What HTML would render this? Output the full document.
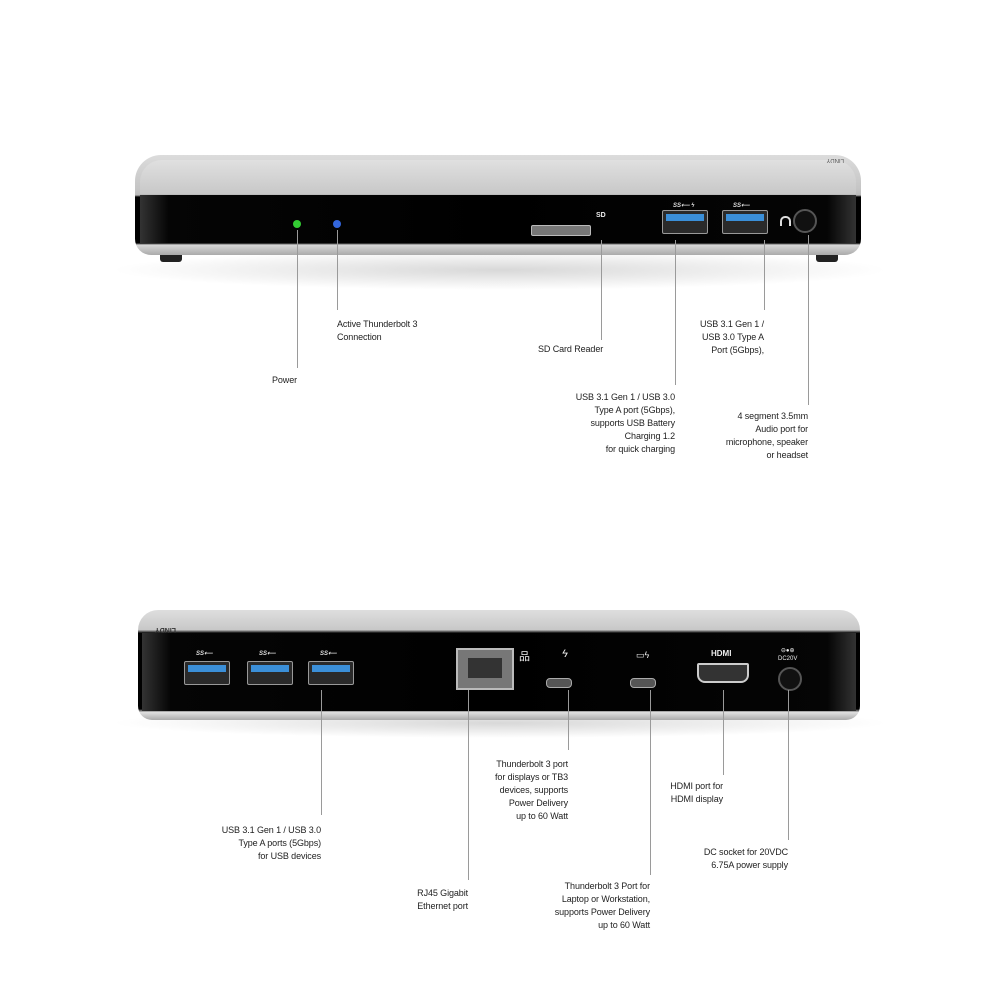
<!DOCTYPE html>
<html><head><meta charset="utf-8"><style>
body{margin:0;background:#fff;width:1000px;height:1000px;position:relative;overflow:hidden;font-family:"Liberation Sans",sans-serif}
.a{position:absolute}
.l{position:absolute;width:1px;background:#9a9a9a}
.t{position:absolute;font-size:9px;line-height:13px;color:#222;white-space:nowrap;letter-spacing:-0.1px}
.r{text-align:right}
.usb{position:absolute;width:44px;height:22px;background:#2a2a2a;border:1px solid #999;border-radius:2px}
.usb i{position:absolute;left:3px;right:3px;top:3px;height:7px;background:#3b8fd8}
.lab{position:absolute;font-size:6px;color:#ddd;font-style:italic;font-weight:bold}
</style></head><body>
<div class="a" style="left:110px;top:250px;width:780px;height:40px;border-radius:50%;background:radial-gradient(ellipse,#d8d8d8,rgba(255,255,255,0) 70%)"></div>
<div class="a" style="left:110px;top:708px;width:780px;height:30px;border-radius:50%;background:radial-gradient(ellipse,#d8d8d8,rgba(255,255,255,0) 70%)"></div>

<div class="a" style="left:160px;top:250px;width:22px;height:12px;background:#222;border-radius:0 0 3px 3px"></div>
<div class="a" style="left:816px;top:250px;width:22px;height:12px;background:#222;border-radius:0 0 3px 3px"></div>
<div class="a" style="left:135px;top:155px;width:726px;height:100px;border-radius:26px 26px 16px 16px;background:linear-gradient(#dcdcdc,#c4c4c4 35%,#bbb 40%,#000 42%,#000 88%,#d8d8d8 90%,#aaa 100%)"></div>
<div class="a" style="left:140px;top:160px;width:716px;height:34px;border-radius:22px 22px 0 0;background:linear-gradient(#e0e0e0,#c8c8c8)"></div>
<div class="a" style="left:140px;top:195px;width:716px;height:48px;background:linear-gradient(90deg,#333,#050505 4%,#000 50%,#050505 96%,#333)"></div>
<div class="a" style="left:812px;top:157px;width:32px;height:6px;font-size:6px;color:#555;transform:rotate(180deg)">LINDY</div>
<div class="a" style="left:293px;top:220px;width:8px;height:8px;border-radius:50%;background:#3c3"></div>
<div class="a" style="left:333px;top:220px;width:8px;height:8px;border-radius:50%;background:#36d"></div>
<div class="a" style="left:596px;top:212px;font-size:7px;color:#eee;font-weight:bold">SD</div>
<div class="a" style="left:531px;top:225px;width:58px;height:9px;background:#777;border:1px solid #bbb;border-radius:2px"></div>
<div class="usb" style="left:662px;top:210px"><i></i></div>
<div class="usb" style="left:722px;top:210px"><i></i></div>
<div class="lab" style="left:673px;top:202px">SS⟵ ϟ</div>
<div class="lab" style="left:733px;top:202px">SS⟵</div>
<div class="a" style="left:780px;top:216px;width:7px;height:8px;border:2px solid #ddd;border-bottom:none;border-radius:5px 5px 0 0"></div>
<div class="a" style="left:793px;top:209px;width:20px;height:20px;border-radius:50%;background:#111;border:2px solid #555"></div>

<div class="l" style="left:297px;top:230px;height:138px"></div>
<div class="l" style="left:337px;top:230px;height:80px"></div>
<div class="l" style="left:601px;top:240px;height:100px"></div>
<div class="l" style="left:675px;top:240px;height:145px"></div>
<div class="l" style="left:764px;top:240px;height:70px"></div>
<div class="l" style="left:808px;top:235px;height:170px"></div>

<div class="t" style="left:272px;top:374px">Power</div>
<div class="t" style="left:337px;top:318px">Active Thunderbolt 3<br>Connection</div>
<div class="t" style="left:538px;top:343px">SD Card Reader</div>
<div class="t r" style="right:325px;top:391px">USB 3.1 Gen 1 / USB 3.0<br>Type A port (5Gbps),<br>supports USB Battery<br>Charging 1.2<br>for quick charging</div>
<div class="t r" style="right:236px;top:318px">USB 3.1 Gen 1 /<br>USB 3.0 Type A<br>Port (5Gbps),</div>
<div class="t r" style="right:192px;top:410px">4 segment 3.5mm<br>Audio port for<br>microphone, speaker<br>or headset</div>

<div class="a" style="left:138px;top:610px;width:722px;height:110px;border-radius:20px 20px 14px 14px;background:linear-gradient(#dedede,#c8c8c8 18%,#000 21%,#000 90%,#e0e0e0 93%,#aaa 100%)"></div>
<div class="a" style="left:142px;top:633px;width:714px;height:78px;background:linear-gradient(90deg,#333,#050505 4%,#000 50%,#050505 96%,#333)"></div>
<div class="a" style="left:155px;top:626px;font-size:7px;color:#333;font-weight:bold;transform:rotate(180deg)">LINDY</div>
<div class="usb" style="left:184px;top:661px"><i></i></div>
<div class="usb" style="left:247px;top:661px"><i></i></div>
<div class="usb" style="left:308px;top:661px"><i></i></div>
<div class="lab" style="left:196px;top:650px">SS⟵</div>
<div class="lab" style="left:259px;top:650px">SS⟵</div>
<div class="lab" style="left:320px;top:650px">SS⟵</div>
<div class="a" style="left:456px;top:648px;width:54px;height:38px;background:#777;border:2px solid #bbb"><div style="margin:8px 10px;height:20px;background:#333"></div></div>
<div class="a" style="left:519px;top:648px;font-size:11px;color:#eee">品</div>
<div class="a" style="left:562px;top:648px;font-size:11px;color:#eee;font-style:italic">ϟ</div>
<div class="a" style="left:546px;top:678px;width:24px;height:8px;border-radius:4px;background:#555;border:1px solid #aaa"></div>
<div class="a" style="left:636px;top:650px;font-size:9px;color:#eee">▭ϟ</div>
<div class="a" style="left:630px;top:678px;width:24px;height:8px;border-radius:4px;background:#555;border:1px solid #aaa"></div>
<div class="a" style="left:711px;top:649px;font-size:8px;color:#eee;font-weight:bold">HDMI</div>
<div class="a" style="left:697px;top:663px;width:48px;height:16px;background:#333;border:2px solid #ccc;border-radius:2px 2px 8px 8px"></div>
<div class="a" style="left:778px;top:647px;font-size:6px;color:#eee;line-height:8px;text-align:center">⊖●⊕<br>DC20V</div>
<div class="a" style="left:778px;top:667px;width:20px;height:20px;border-radius:50%;background:#111;border:2px solid #555"></div>

<div class="l" style="left:321px;top:690px;height:125px"></div>
<div class="l" style="left:468px;top:690px;height:190px"></div>
<div class="l" style="left:568px;top:690px;height:60px"></div>
<div class="l" style="left:650px;top:690px;height:185px"></div>
<div class="l" style="left:723px;top:690px;height:85px"></div>
<div class="l" style="left:788px;top:690px;height:150px"></div>

<div class="t r" style="right:679px;top:824px">USB 3.1 Gen 1 / USB 3.0<br>Type A ports (5Gbps)<br>for USB devices</div>
<div class="t r" style="right:532px;top:887px">RJ45 Gigabit<br>Ethernet port</div>
<div class="t r" style="right:432px;top:758px">Thunderbolt 3 port<br>for displays or TB3<br>devices, supports<br>Power Delivery<br>up to 60 Watt</div>
<div class="t r" style="right:350px;top:880px">Thunderbolt 3 Port for<br>Laptop or Workstation,<br>supports Power Delivery<br>up to 60 Watt</div>
<div class="t r" style="right:277px;top:780px">HDMI port for<br>HDMI display</div>
<div class="t r" style="right:212px;top:846px">DC socket for 20VDC<br>6.75A power supply</div>
</body></html>
